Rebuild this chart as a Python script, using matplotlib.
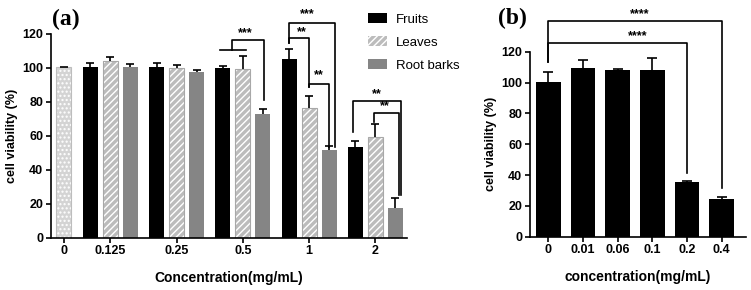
import matplotlib.pyplot as plt
import numpy as np

plt.rcParams['font.family'] = ['Liberation Sans', 'DejaVu Sans']
plt.rcParams['hatch.linewidth'] = 1.0

# panel (a): cell viability of extracts
conc_a = ['0', '0.125', '0.25', '0.5', '1', '2']
control_val = 100.2
control_err = 0.4
fruits = [100.6, 100.2, 99.6, 105.0, 53.5]
fruits_err = [2.0, 2.8, 1.5, 6.0, 3.4]
leaves = [103.9, 99.8, 99.2, 76.5, 59.4]
leaves_err = [2.6, 2.0, 7.4, 7.0, 7.5]
roots = [100.2, 97.3, 72.8, 51.4, 17.6]
roots_err = [2.0, 1.3, 3.1, 2.7, 5.6]

# panel (b)
conc_b = ['0', '0.01', '0.06', '0.1', '0.2', '0.4']
vals_b = [100.5, 109.2, 108.0, 107.9, 35.3, 24.3]
err_b = [6.3, 5.4, 0.5, 8.2, 1.0, 1.6]

LW = 1.2


def up_err(ax, x, y, e, cap):
    # only the upper half of the error bar, like graphpad
    e = np.atleast_1d(e)
    _, caps, _ = ax.errorbar(x, y, yerr=[np.zeros_like(e), e], fmt='none',
                             ecolor='k', elinewidth=LW, capsize=cap, capthick=LW)
    caps[0].set_visible(False)


def bracket(ax, x1, x2, y, b1, b2, label, tx, ty):
    ax.plot([x1, x1, x2, x2], [b1, y, y, b2], color='k', lw=LW, clip_on=False)
    ax.text(tx, ty, label, ha='center', va='center', fontsize=9, fontweight='bold',
            clip_on=False)


def style(ax):
    for s in ['top', 'right']:
        ax.spines[s].set_visible(False)
    for s in ['left', 'bottom']:
        ax.spines[s].set_linewidth(LW)
    ax.tick_params(width=LW, length=3.5, labelsize=9, pad=2)
    for t in ax.get_xticklabels() + ax.get_yticklabels():
        t.set_fontweight('bold')


fig = plt.figure(figsize=(7.51, 2.90), dpi=100)
ax1 = fig.add_axes([51 / 751, 1 - 237.7 / 290, (406.7 - 51) / 751, 204 / 290])
ax2 = fig.add_axes([530 / 751, 1 - 236.7 / 290, (746 - 530) / 751, 185 / 290])

# ---- (a)
step = 3.31
centers = np.arange(1, 6) * step - step
xc = -2.33
w = 0.75

ax1.bar(xc, control_val, w, color='#d4d4d4', edgecolor='white', lw=0, hatch='....')
ax1.bar(xc, control_val, w, fill=False, edgecolor='#bdbdbd', lw=0.8)
up_err(ax1, xc, control_val, control_err, 2.9)

b_f = ax1.bar(centers - 1, fruits, w, color='black', lw=0)
b_l = ax1.bar(centers, leaves, w, color='#bcbcbc', edgecolor='white', lw=0, hatch='/////')
ax1.bar(centers, leaves, w, fill=False, edgecolor='#a8a8a8', lw=0.8)
b_r = ax1.bar(centers + 1, roots, w, color='#858585', lw=0)
up_err(ax1, centers - 1, fruits, fruits_err, 2.9)
up_err(ax1, centers, leaves, leaves_err, 2.9)
up_err(ax1, centers + 1, roots, roots_err, 2.9)

ax1.set_xlim(-2.96, 14.8)
ax1.set_ylim(0, 120)
ax1.set_yticks(range(0, 121, 20))
ax1.set_xticks([xc] + list(centers))
ax1.set_xticklabels(conc_a)
style(ax1)
ax1.set_ylabel('cell viability (%)', fontsize=9, fontweight='bold', labelpad=3)
ax1.set_xlabel('Concentration(mg/mL)', fontsize=10, fontweight='bold', labelpad=10)

# significance marks in (a)
g5 = centers[2]
ax1.plot([g5 - 1.13, g5 + 0.17], [110.4, 110.4], color='k', lw=LW, clip_on=False)
bracket(ax1, g5 - 0.55, g5 + 1.04, 116.3, 110.4, 81, '***', g5 + 0.12, 120.6)
g1 = centers[3]
bracket(ax1, g1 - 1, g1 + 1.31, 126.3, 114.5, 53.4, '***', g1 - 0.1, 131.2)
bracket(ax1, g1 - 1, g1, 117.2, 114.5, 88.6, '**', g1 - 0.35, 121.0)
bracket(ax1, g1, g1 + 0.97, 90.4, 88.6, 53.4, '**', g1 + 0.46, 95.7)
g2 = centers[4]
bracket(ax1, g2 - 1.1, g2 + 1.3, 80.6, 62.4, 25.1, '**', g2 + 0.05, 84.7)
bracket(ax1, g2 - 0.05, g2 + 1.16, 73.2, 68.2, 25.1, '**', g2 + 0.45, 77.1)

ax1.legend([b_f, b_l, b_r], ['Fruits', 'Leaves', 'Root barks'], frameon=False,
           loc='upper left', bbox_to_anchor=(363 / 751, 1 - 8 / 290),
           bbox_transform=fig.transFigure, fontsize=9.5, handlelength=1.45,
           handleheight=0.8, labelspacing=0.78, handletextpad=0.65, borderaxespad=0)

# ---- (b)
xb = np.arange(len(conc_b))
ax2.bar(xb, vals_b, 0.71, color='black', lw=0)
up_err(ax2, xb, vals_b, err_b, 3.6)
ax2.set_xlim(-0.53, 5.70)
ax2.set_ylim(0, 120)
ax2.set_yticks(range(0, 121, 20))
ax2.set_xticks(xb)
ax2.set_xticklabels(conc_b)
style(ax2)
ax2.set_ylabel('cell viability (%)', fontsize=9, fontweight='bold', labelpad=3)
ax2.set_xlabel('concentration(mg/mL)', fontsize=10, fontweight='bold', labelpad=10)

bracket(ax2, 0, 5, 140, 113.5, 31.4, '****', 2.64, 144.6)
bracket(ax2, 0, 4, 125.4, 113.5, 41.1, '****', 2.59, 129.9)

fig.text(52 / 751, 1 - 19 / 290, '(a)', family='Liberation Serif', fontweight='bold',
         fontsize=17, va='center', ha='left')
fig.text(498 / 751, 1 - 18 / 290, '(b)', family='Liberation Serif', fontweight='bold',
         fontsize=17, va='center', ha='left')

fig.savefig('out.png', dpi=100)
